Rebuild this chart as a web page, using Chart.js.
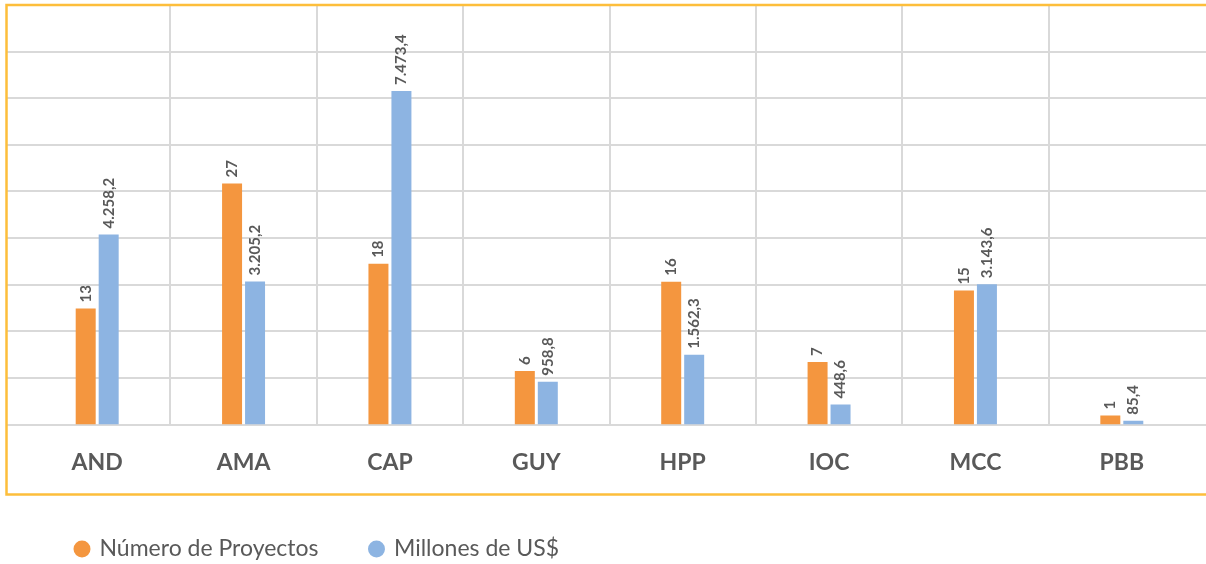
<!DOCTYPE html>
<html>
<head>
<meta charset="utf-8">
<script src="https://cdn.jsdelivr.net/npm/chart.js@4/dist/chart.umd.min.js"></script>
<style>
    body { margin: 0; background: #ffffff; }
</style>
</head>
<body>
<canvas id="grafico" width="1206" height="564"></canvas>
<script>
// datos del grafico
var categorias = ['AND', 'AMA', 'CAP', 'GUY', 'HPP', 'IOC', 'MCC', 'PBB'];
var numeroProyectos = [13, 27, 18, 6, 16, 7, 15, 1];
var millonesUS = [4258.2, 3205.2, 7473.4, 958.8, 1562.3, 448.6, 3143.6, 85.4];
var nombresSeries = ['Número de Proyectos', 'Millones de US$'];

var gris = '#595959';
var colorGrilla = '#D9D9D9';

// formato 1.234,5
function formato(v, dec) {
    var partes = v.toFixed(dec).split('.');
    var entero = partes[0].replace(/\B(?=(\d{3})+(?!\d))/g, '.');
    return partes.length > 1 ? entero + ',' + partes[1] : entero;
}

// etiquetas verticales encima de cada barra
var etiquetas = {
    id: 'etiquetas',
    afterDatasetsDraw: function (chart) {
        var ctx = chart.ctx;
        chart.data.datasets.forEach(function (ds, i) {
            var meta = chart.getDatasetMeta(i);
            meta.data.forEach(function (barra, j) {
                ctx.save();
                ctx.translate(barra.x, barra.y - 6);
                ctx.rotate(-Math.PI / 2);
                ctx.font = 'bold 15px Lato';
                ctx.fillStyle = gris;
                ctx.textAlign = 'left';
                ctx.textBaseline = 'middle';
                ctx.fillText(formato(ds.data[j], ds.decimales), 0, 0);
                ctx.restore();
            });
        });
    }
};

// marco dorado alrededor del grafico
var marco = {
    id: 'marco',
    afterDraw: function (chart) {
        var ctx = chart.ctx;
        var izq = chart.scales.g.left;
        var arriba = chart.chartArea.top;
        var abajo = chart.scales.x.bottom + 9;
        ctx.save();
        ctx.strokeStyle = '#FDBE3B';
        ctx.lineWidth = 2.5;
        ctx.strokeRect(izq + 0.5, arriba, chart.width + 20, abajo - arriba);
        ctx.restore();
    }
};

var ctx = document.getElementById('grafico');
var grafico = new Chart(ctx, {
    type: 'bar',
    data: {
        labels: categorias,
        datasets: [{
            label: nombresSeries[0],
            data: numeroProyectos,
            decimales: 0,
            backgroundColor: '#F4963F',
            yAxisID: 'y',
            categoryPercentage: 0.314,
            barPercentage: 0.87
        }, {
            label: nombresSeries[1],
            data: millonesUS,
            decimales: 1,
            backgroundColor: '#8DB4E2',
            yAxisID: 'y1',
            categoryPercentage: 0.314,
            barPercentage: 0.87
        }]
    },
    options: {
        responsive: false,
        animation: false,
        layout: { padding: { left: 6, top: 5, right: 0, bottom: 0 } },
        plugins: {
            tooltip: { enabled: false },
            legend: {
                position: 'bottom',
                align: 'start',
                fullSize: false,
                maxHeight: 78.5,
                labels: {
                    usePointStyle: true,
                    pointStyle: 'circle',
                    boxWidth: 12,
                    boxHeight: 12,
                    padding: 52,
                    color: gris,
                    font: { family: 'Lato', size: 23 }
                }
            }
        },
        scales: {
            x: {
                grid: {
                    offset: true,
                    lineWidth: 2,
                    drawTicks: false,
                    color: function (c) {
                        return (!c.tick || c.index === 0) ? 'rgba(0,0,0,0)' : colorGrilla;
                    }
                },
                border: { display: false },
                ticks: {
                    padding: 24,
                    color: gris,
                    font: { family: 'Lato', size: 23, weight: 'bold' }
                },
                afterFit: function (scale) { scale.height = 61; }
            },
            y: { display: false, min: 0, max: 47 },
            y1: { display: false, min: 0, max: 9400 },
            g: {
                position: 'left',
                min: 0, max: 9,
                ticks: { display: false, stepSize: 1 },
                border: { display: false },
                grid: { color: colorGrilla, lineWidth: 2, tickLength: 18 }
            },
            g2: {
                position: 'right',
                min: 0, max: 9,
                ticks: { display: false, stepSize: 1 },
                border: { display: false },
                grid: { color: colorGrilla, lineWidth: 2, tickLength: 11, drawOnChartArea: false }
            }
        }
    },
    plugins: [etiquetas, marco]
});
</script>
</body>
</html>
